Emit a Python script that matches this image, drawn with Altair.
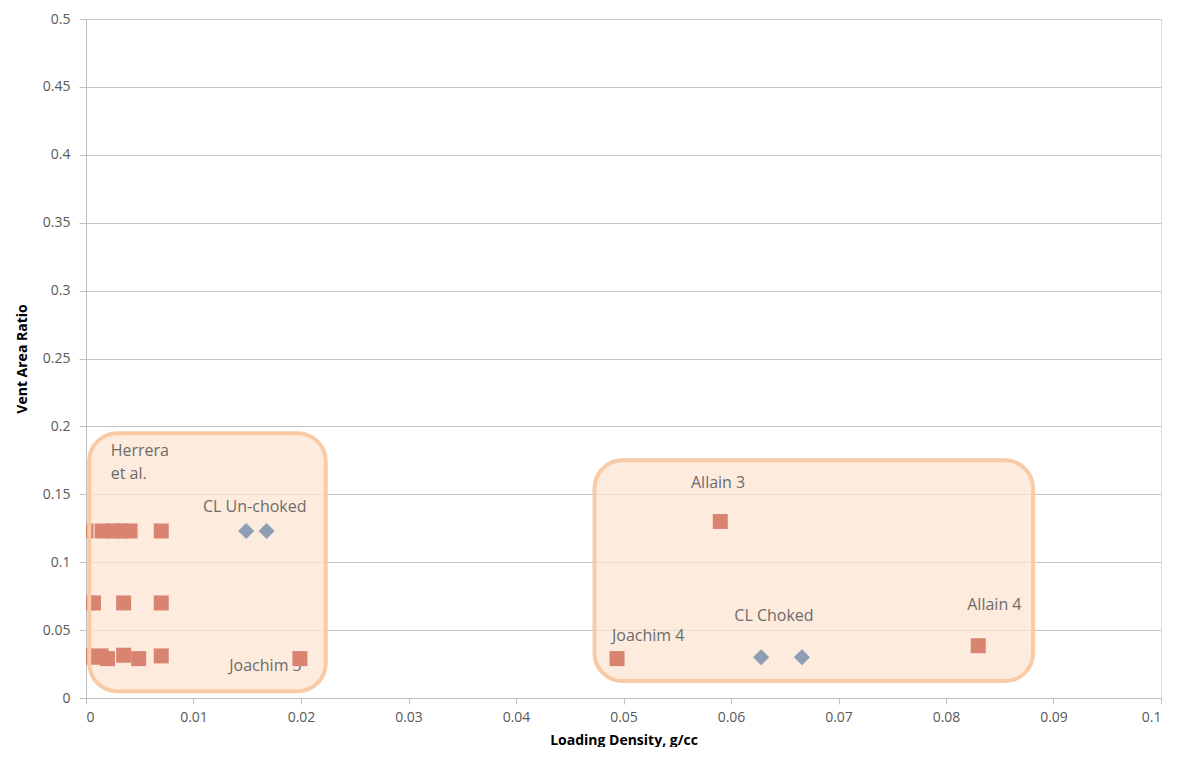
import altair as alt
import pandas as pd

# Squares (other studies)
sq_x = [0.0000, 0.0015, 0.0025, 0.0033, 0.0041, 0.0070,
        0.0000, 0.0007, 0.0035, 0.0070,
        0.0000, 0.0007, 0.0014, 0.0020, 0.0035, 0.0049, 0.0070,
        0.0199, 0.0494, 0.0590, 0.0830]
sq_y = [0.123, 0.123, 0.123, 0.123, 0.123, 0.123,
        0.070, 0.070, 0.070, 0.070,
        0.031, 0.030, 0.031, 0.029, 0.0315, 0.029, 0.031,
        0.029, 0.029, 0.130, 0.0385]

# Diamonds (CL tests)
di_x = [0.0149, 0.0168, 0.0628, 0.0666]
di_y = [0.123, 0.123, 0.030, 0.030]

# Annotation boxes
box_x1 = [0.0003, 0.0473]
box_x2 = [0.0223, 0.0881]
box_y1 = [0.005, 0.0125]
box_y2 = [0.195, 0.175]

# Labels
lab_text = ["Herrera\net al.", "CL Un-choked", "Joachim 3", "Allain 3", "Joachim 4", "CL Choked", "Allain 4"]
lab_x = [0.0023, 0.0157, 0.0167, 0.0588, 0.0523, 0.0640, 0.0845]
lab_y = [0.182, 0.141, 0.0235, 0.158, 0.0455, 0.0605, 0.0685]
lab_align = ["left", "center", "center", "center", "center", "center", "center"]

sq = pd.DataFrame({"x": sq_x, "y": sq_y})
di = pd.DataFrame({"x": di_x, "y": di_y})
boxes = pd.DataFrame({"x1": box_x1, "x2": box_x2, "y1": box_y1, "y2": box_y2})
labs = pd.DataFrame({"t": lab_text, "x": lab_x, "y": lab_y, "a": lab_align})

xs = alt.Scale(domain=[0, 0.1], nice=False, zero=False)
ys = alt.Scale(domain=[0, 0.5], nice=False)

FONT = "Open Sans"
xaxis = alt.Axis(title="Loading Density, g/cc", values=[i / 100 for i in range(11)],
                 format="~g", grid=False, domain=True, domainColor="#BFBFBF",
                 tickColor="#BFBFBF", tickSize=6, labelFont=FONT, labelFontSize=14,
                 labelColor="#595959", labelPadding=6, titleFont=FONT,
                 titleFontSize=14, titleFontWeight="bold", titleColor="#000000",
                 titlePadding=9)
yaxis = alt.Axis(title="Vent Area Ratio", values=[i * 0.05 for i in range(11)],
                 format="~g", grid=True, gridColor="#C6C6C6", domain=True,
                 domainColor="#BFBFBF", tickColor="#BFBFBF", tickSize=7,
                 labelFont=FONT, labelFontSize=14, labelColor="#595959",
                 labelPadding=9, titleFont=FONT, titleFontSize=14,
                 titleFontWeight="bold", titleColor="#000000", titlePadding=13)

bx_fill = alt.Chart(boxes).mark_rect(cornerRadius=28, fill="#FCE3CF", fillOpacity=0.7,
                                     strokeWidth=0).encode(
    x=alt.X("x1:Q", scale=xs, axis=xaxis), x2="x2:Q",
    y=alt.Y("y1:Q", scale=ys, axis=yaxis), y2="y2:Q")

bx_line = alt.Chart(boxes).mark_rect(cornerRadius=28, fillOpacity=0,
                                     stroke="#F8CBA6", strokeWidth=4).encode(
    x=alt.X("x1:Q", scale=xs), x2="x2:Q",
    y=alt.Y("y1:Q", scale=ys), y2="y2:Q")

base_pts = alt.Chart(sq).mark_point(shape="square", filled=True, size=225,
                                    color="#D98470", opacity=1, clip=True).encode(
    x=alt.X("x:Q", scale=xs),
    y=alt.Y("y:Q", scale=ys),
)

dia = alt.Chart(di).mark_point(shape="diamond", filled=True, size=260,
                               color="#8E9FB5", opacity=1).encode(
    x=alt.X("x:Q", scale=xs), y=alt.Y("y:Q", scale=ys))

txt_l = alt.Chart(labs[labs.a == "left"]).mark_text(
    align="left", baseline="middle", font=FONT, fontSize=16,
    color="#6B6B6B", lineBreak="\n", lineHeight=23).encode(
    x=alt.X("x:Q", scale=xs), y=alt.Y("y:Q", scale=ys), text="t:N")
txt_c = alt.Chart(labs[labs.a == "center"]).mark_text(
    align="center", baseline="middle", font=FONT, fontSize=16,
    color="#6B6B6B").encode(
    x=alt.X("x:Q", scale=xs), y=alt.Y("y:Q", scale=ys), text="t:N")

chart = alt.layer(bx_fill, txt_l, txt_c, base_pts, dia, bx_line).properties(
    width=1075, height=679, padding={"left": 7, "top": 4, "right": 2, "bottom": 0}
).configure_view(stroke=None).configure(background="white")

chart.save("out.html", embed_options={"renderer": "svg", "actions": False})
